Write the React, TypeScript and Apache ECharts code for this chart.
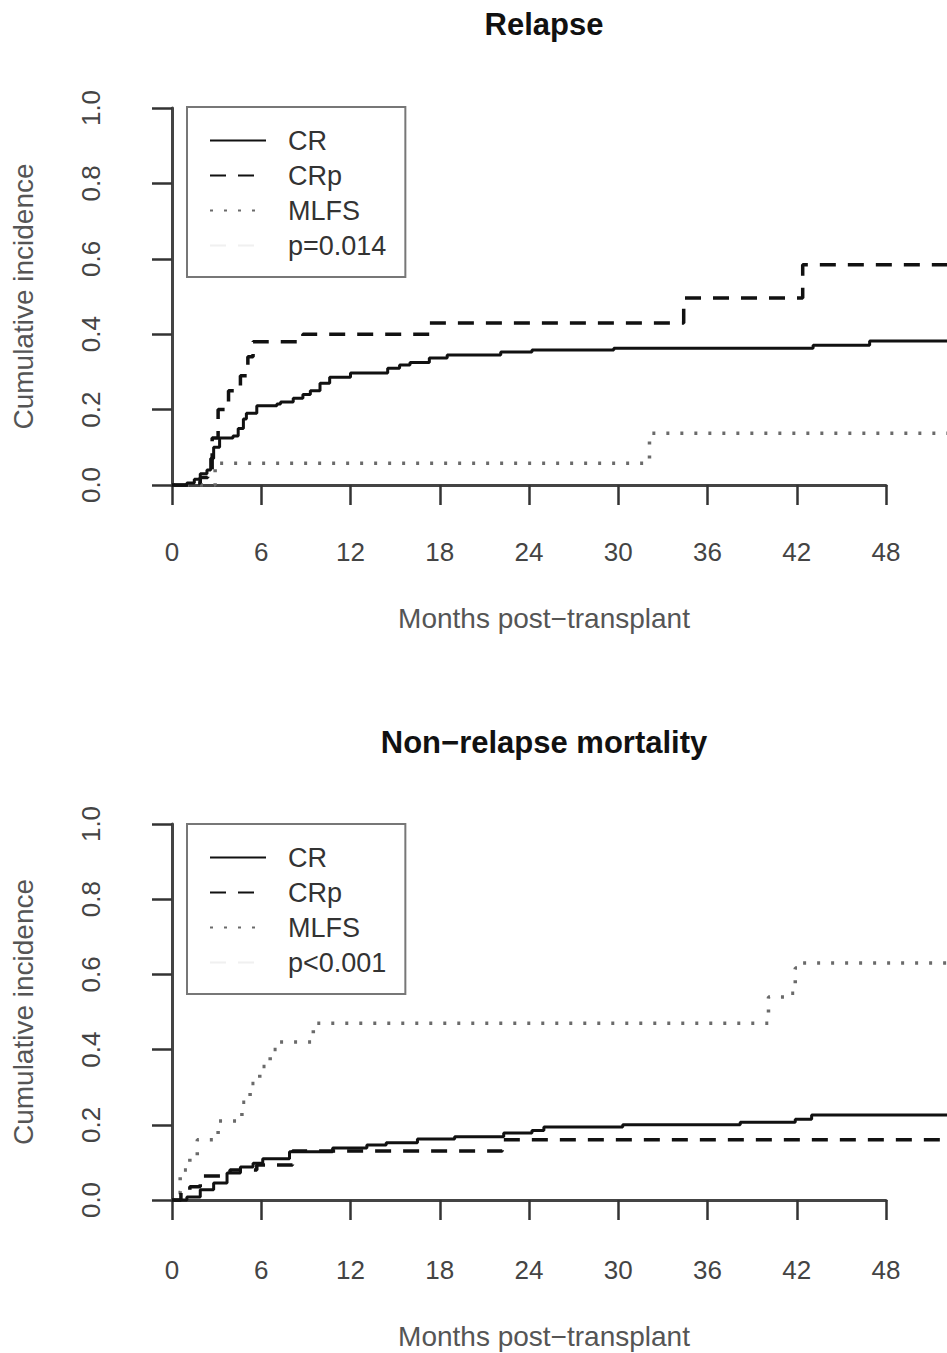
import React, { useEffect, useRef } from "react";
import * as echarts from "echarts";

const FONT = "'Liberation Sans', Arial, Helvetica, sans-serif";

const panelTitles = ["Relapse", "Non\u2212relapse mortality"];
const xAxisTitle = "Months post\u2212transplant";
const yAxisTitle = "Cumulative incidence";
const seriesNames = ["CR", "CRp", "MLFS"];
const pValueLabels = ["p=0.014", "p<0.001"];
const xMin = 0;
const xMax = 48;
const xInterval = 6;
const yMin = 0;
const yMax = 1;
const yInterval = 0.2;

// Relapse panel: [months, cumulative incidence]
const relapseCR = [
  [0, 0], [1.0, 0.005], [1.5, 0.015], [1.9, 0.03], [2.35, 0.04], [2.6, 0.07],
  [2.8, 0.1], [3.2, 0.125], [4.1, 0.13], [4.45, 0.15], [4.8, 0.175], [5.0, 0.19],
  [5.7, 0.21], [7.05, 0.215], [7.3, 0.22], [8.15, 0.23], [8.8, 0.24], [9.3, 0.25],
  [9.95, 0.27], [10.6, 0.286], [12.0, 0.297], [14.5, 0.31], [15.3, 0.318],
  [16.0, 0.325], [17.3, 0.337], [18.5, 0.345], [22.1, 0.353], [24.2, 0.358],
  [29.7, 0.363], [43.1, 0.371], [46.9, 0.382], [53, 0.382],
];
const relapseCRp = [
  [0, 0], [1.2, 0.005], [1.9, 0.02], [2.4, 0.04], [2.7, 0.125], [3.1, 0.2],
  [3.8, 0.25], [4.6, 0.29], [5.1, 0.34], [5.45, 0.38], [8.8, 0.4], [17.3, 0.43],
  [34.4, 0.496], [42.4, 0.584], [53, 0.584],
];
const relapseMLFS = [
  [0, 0], [2.9, 0.058], [32.1, 0.137], [53, 0.137],
];

// Non-relapse mortality panel
const nrmCR = [
  [0, 0], [1.0, 0.008], [1.9, 0.027], [2.8, 0.045], [3.7, 0.072], [4.6, 0.088],
  [5.45, 0.098], [6.1, 0.11], [7.9, 0.128], [10.8, 0.138], [13.1, 0.146],
  [14.4, 0.152], [16.5, 0.162], [19.0, 0.168], [22.3, 0.178], [24.2, 0.185],
  [25.0, 0.194], [30.3, 0.2], [38.2, 0.207], [41.9, 0.215], [43.0, 0.226],
  [53, 0.226],
];
const nrmCRp = [
  [0, 0], [0.6, 0.02], [1.2, 0.035], [1.9, 0.064], [3.9, 0.08], [5.7, 0.093],
  [8.1, 0.13], [22.2, 0.16], [53, 0.16],
];
const nrmMLFS = [
  [0, 0], [0.1, 0.02], [0.55, 0.08], [1.2, 0.11], [1.7, 0.16], [3.1, 0.21],
  [4.7, 0.26], [5.25, 0.31], [5.9, 0.355], [6.6, 0.4], [7.2, 0.42], [9.5, 0.47],
  [40.1, 0.54], [41.4, 0.55], [41.9, 0.617], [42.4, 0.63], [53, 0.63],
];

const panelData = [
  [relapseCR, relapseCRp, relapseMLFS],
  [nrmCR, nrmCRp, nrmMLFS],
];

const lineStyles = [
  { color: "#111111", width: 3, type: "solid" },
  { color: "#111111", width: 3.5, type: [16, 12] },
  { color: "#6a6a6a", width: 3.5, type: [3, 11] },
];

// layout of each panel (pixels)
const panels = [
  { top: 108, height: 377, xOffset: 12, titleTop: 9, legendTop: 107 },
  { top: 824, height: 376, xOffset: 15, titleTop: 727, legendTop: 824 },
];
const plotLeft = 172;
const axisWidth = 714; // 0..48 months
const dataWidth = 775; // plotting region runs to the right edge
const dataXMax = (xMax * dataWidth) / axisWidth;

export default function App() {
  const ref = useRef<HTMLDivElement>(null);
  useEffect(() => {
    if (!ref.current) return;
    const chart = echarts.init(ref.current, null, { renderer: "svg" });
    const series: any[] = [];
    panelData.forEach((lines, p) => {
      lines.forEach((d, i) => {
        series.push({
          name: seriesNames[i],
          type: "line",
          step: "end",
          symbol: "none",
          xAxisIndex: p,
          yAxisIndex: p,
          data: d,
          clip: false,
          silent: true,
          itemStyle: { color: "rgba(0,0,0,0)" },
          lineStyle: lineStyles[i],
          z: 3 - i,
        });
      });
      series.push({
        name: pValueLabels[p],
        type: "line",
        symbol: "none",
        xAxisIndex: p,
        yAxisIndex: p,
        data: [],
        silent: true,
        itemStyle: { color: "rgba(0,0,0,0)" },
        lineStyle: { color: "#f0f0f0", width: 2.5, type: [16, 12] },
      });
    });

    const dataGrids = panels.map((g) => ({ left: plotLeft, width: dataWidth, top: g.top, height: g.height }));
    const axisGrids = panels.map((g) => ({ left: plotLeft, width: axisWidth, top: g.top, height: g.height }));

    const option: any = {
      animation: false,
      backgroundColor: "#ffffff",
      title: panels.map((g, p) => ({
        text: panelTitles[p],
        left: 544,
        top: g.titleTop,
        textAlign: "center",
        padding: 0,
        textStyle: { fontSize: 31, fontWeight: "bold", color: "#111", fontFamily: FONT },
      })),
      legend: panels.map((g, p) => ({
        data: [...seriesNames, pValueLabels[p]],
        orient: "vertical",
        left: 187,
        top: g.legendTop,
        padding: [20, 19, 18, 22],
        itemWidth: 56,
        itemHeight: 20,
        itemGap: 8,
        borderColor: "#777",
        borderWidth: 2,
        selectedMode: false,
        itemStyle: { color: "rgba(0,0,0,0)", borderWidth: 0 },
        textStyle: { fontSize: 27, color: "#333", fontFamily: FONT, padding: [0, 0, 0, 17] },
      })),
      grid: [...dataGrids, ...axisGrids],
      xAxis: [
        ...panels.map((g, p) => ({
          type: "value",
          gridIndex: p,
          min: xMin,
          max: dataXMax,
          show: false,
        })),
        ...panels.map((g, p) => ({
          type: "value",
          gridIndex: 2 + p,
          min: xMin,
          max: xMax,
          interval: xInterval,
          offset: g.xOffset,
          name: xAxisTitle,
          nameLocation: "middle",
          nameGap: 107,
          nameTextStyle: { fontSize: 28, color: "#555", fontFamily: FONT, padding: [0, 0, 0, 30] },
          axisLine: { show: true, lineStyle: { color: "#444", width: 3 } },
          axisTick: { show: true, length: 20, lineStyle: { color: "#333", width: 2.5 } },
          axisLabel: { margin: 42, fontSize: 26, color: "#444", fontFamily: FONT, showMinLabel: true, showMaxLabel: true },
          splitLine: { show: false },
        })),
      ],
      yAxis: [
        ...panels.map((g, p) => ({
          type: "value",
          gridIndex: p,
          min: yMin,
          max: yMax,
          interval: yInterval,
          offset: 29,
          name: yAxisTitle,
          nameLocation: "middle",
          nameGap: 106,
          nameTextStyle: { fontSize: 28, color: "#555", fontFamily: FONT },
          axisLine: { show: true, lineStyle: { color: "#444", width: 3 } },
          axisTick: { show: true, length: 20, lineStyle: { color: "#333", width: 2.5 } },
          axisLabel: {
            rotate: 90,
            margin: 39,
            fontSize: 26,
            color: "#444",
            fontFamily: FONT,
            showMinLabel: true,
            showMaxLabel: true,
            formatter: (v: number) => v.toFixed(1),
          },
          splitLine: { show: false },
        })),
        ...panels.map((g, p) => ({
          type: "value",
          gridIndex: 2 + p,
          min: yMin,
          max: yMax,
          show: false,
        })),
      ],
      series,
    };
    chart.setOption(option);
    return () => chart.dispose();
  }, []);
  return (
    <div
      ref={ref}
      style={{ position: "absolute", left: 0, top: 0, width: 947, height: 1353, background: "#fff" }}
    />
  );
}
